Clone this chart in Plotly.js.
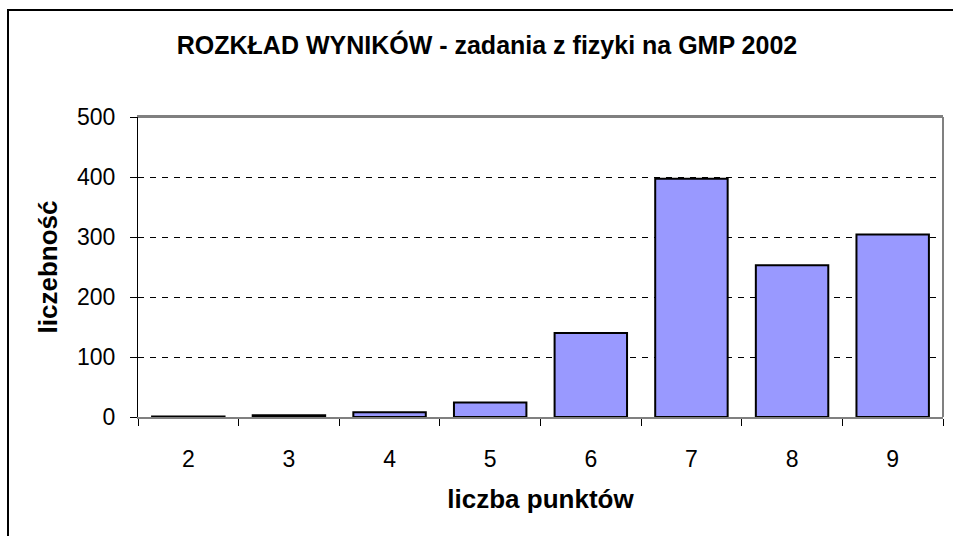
<!DOCTYPE html>
<html>
<head>
<meta charset="utf-8">
<script src="https://cdn.plot.ly/plotly-3.0.1.min.js"></script>
<style>
  html, body { margin: 0; padding: 0; background: #fff; }
  #frame { position: absolute; left: 7px; top: 9px; width: 1000px; height: 600px; border: 2px solid #000; box-sizing: border-box; }
  #chart { position: absolute; left: 0; top: 0; width: 953px; height: 536px; }
</style>
</head>
<body>
<div id="frame"></div>
<div id="chart"></div>
<script>
const categories = ['2', '3', '4', '5', '6', '7', '8', '9'];
const counts = [1, 3, 8, 24, 140, 397, 253, 304];
const yTicks = [0, 100, 200, 300, 400, 500];

const font = 'Liberation Sans, Arial, sans-serif';

const trace = {
  type: 'bar',
  x: categories,
  y: counts,
  marker: { color: '#9999FF', line: { color: '#000000', width: 2 } },
  hoverinfo: 'x+y'
};

const layout = {
  width: 953,
  height: 536,
  paper_bgcolor: 'rgba(0,0,0,0)',
  plot_bgcolor: '#ffffff',
  margin: { l: 138, r: 10, t: 117, b: 119 },
  bargap: 0.28,
  showlegend: false,
  title: {
    text: '<b>ROZKŁAD WYNIKÓW - zadania z fizyki na GMP 2002</b>',
    font: { family: font, size: 25, color: '#000' },
    x: 0.511, xanchor: 'center', y: 0.915, yanchor: 'middle'
  },
  xaxis: {
    type: 'category',
    tickfont: { family: font, size: 23, color: '#000' },
    ticks: 'outside', ticklen: 7, tickcolor: '#000', tickwidth: 1,
    tickson: 'boundaries',
    ticklabelstandoff: 20,
    showline: true, linecolor: '#808080', linewidth: 2,
    mirror: true,
    showgrid: false,
    title: { text: '<b>liczba punktów</b>', font: { family: font, size: 26, color: '#000' }, standoff: 19 }
  },
  yaxis: {
    range: [0, 500],
    tickvals: yTicks,
    ticktext: yTicks.map(String),
    tickfont: { family: font, size: 23, color: '#000' },
    ticks: 'outside', ticklen: 7, tickcolor: '#000', tickwidth: 1,
    ticklabelstandoff: 10,
    showline: true, linecolor: '#000', linewidth: 1,
    showgrid: true, gridcolor: '#000', griddash: '6px,6px', gridwidth: 1,
    zeroline: false,
    title: { text: '<b>liczebność</b>', font: { family: font, size: 26, color: '#000' }, standoff: 11 }
  },
  shapes: [
    { type: 'line', xref: 'paper', yref: 'paper', x0: 1, x1: 1, y0: 0, y1: 1, line: { color: '#808080', width: 2 } },
    { type: 'line', xref: 'paper', yref: 'paper', x0: 0, x1: 1, y0: 1, y1: 1, line: { color: '#808080', width: 2 } }
  ]
};

Plotly.newPlot('chart', [trace], layout, { displayModeBar: false, staticPlot: true });
</script>
</body>
</html>
